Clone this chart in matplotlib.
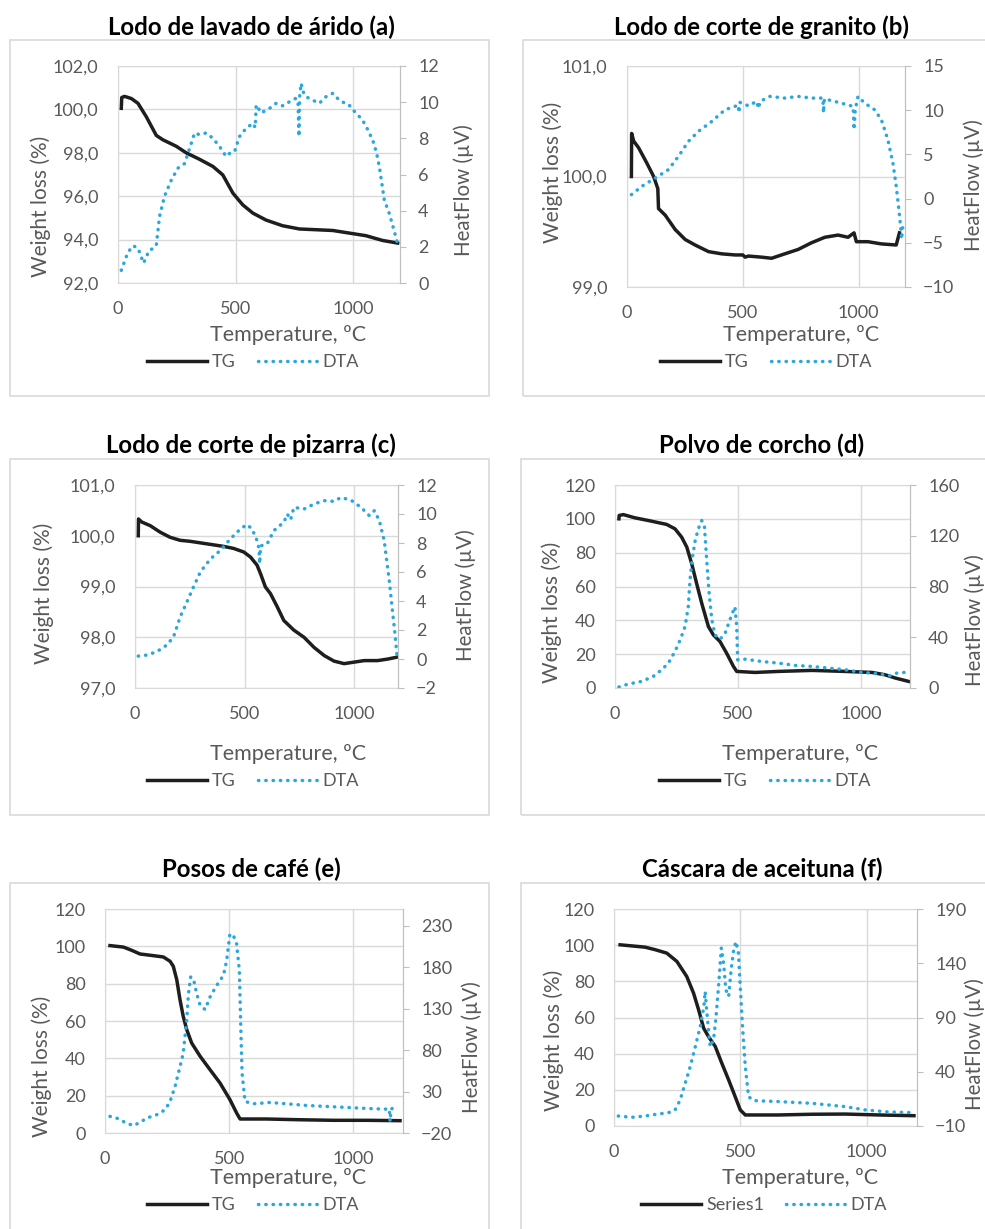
import numpy as np
import matplotlib.pyplot as plt
from matplotlib.ticker import FuncFormatter
from matplotlib.patches import Rectangle

plt.rcParams['font.family'] = ['Lato', 'DejaVu Sans']

GREY = '#595959'
GRID = '#d9d9d9'
BLUE = '#2aa7df'
BLACK = '#1e1e1e'

# (T in ºC, value) pairs
a_tg = [(14, 100.05), (16, 100.55), (28, 100.6), (57, 100.5), (85, 100.28), (120, 99.67),
        (163, 98.8), (191, 98.6), (248, 98.3), (290, 98.0), (347, 97.7), (404, 97.37),
        (446, 96.98), (489, 96.14), (531, 95.6), (574, 95.22), (630, 94.9), (700, 94.64),
        (772, 94.49), (914, 94.42), (984, 94.3), (1055, 94.18), (1126, 93.96), (1190, 93.84)]
a_dta = [(14, 0.7), (28, 1.2), (42, 1.69), (64, 2.06), (85, 1.93), (100, 1.4), (109, 1.1),
         (122, 1.5), (135, 1.84), (150, 1.9), (163, 2.1), (177, 3.7), (198, 4.8), (227, 5.7),
         (255, 6.35), (283, 6.6), (305, 7.45), (326, 8.3), (347, 8.2), (375, 8.3), (404, 8.0),
         (432, 7.55), (460, 7.0), (478, 7.2), (496, 7.27), (517, 8.1), (545, 8.55), (574, 8.83),
         (584, 8.6), (588, 9.85), (610, 9.4), (630, 9.57), (650, 9.7), (673, 9.94), (700, 9.8),
         (731, 10.03), (755, 10.2), (766, 10.1), (770, 8.1), (773, 10.3), (779, 11.04),
         (790, 10.5), (800, 10.3), (830, 10.1), (857, 9.94), (885, 10.3), (914, 10.49),
         (935, 10.2), (956, 10.0), (980, 9.9), (1000, 9.57), (1020, 9.3), (1041, 9.0),
         (1062, 8.5), (1084, 7.9), (1100, 7.2), (1112, 6.44), (1133, 4.6), (1154, 3.86),
         (1176, 2.85), (1193, 2.0)]

b_tg = [(19, 100.0), (20, 100.39), (29, 100.32), (50, 100.26), (86, 100.12), (115, 100.0),
        (133, 99.89), (136, 99.71), (165, 99.65), (208, 99.52), (251, 99.43), (294, 99.38),
        (352, 99.32), (409, 99.30), (467, 99.29), (500, 99.29), (510, 99.27), (524, 99.28),
        (581, 99.27), (624, 99.26), (681, 99.30), (739, 99.34), (796, 99.40), (854, 99.45),
        (911, 99.47), (954, 99.45), (980, 99.49), (990, 99.41), (1040, 99.41), (1098, 99.39),
        (1162, 99.38), (1176, 99.49)]
b_dta = [(19, 0.45), (65, 1.4), (122, 2.33), (179, 3.28), (222, 4.78), (265, 6.47), (308, 7.6),
         (366, 8.73), (423, 10.05), (466, 10.43), (480, 10.6), (483, 9.7), (488, 10.88),
         (524, 10.5), (560, 11.0), (567, 10.2), (575, 11.0), (617, 11.56), (681, 11.37),
         (739, 11.56), (796, 11.37), (846, 11.37), (848, 9.7), (852, 11.3), (868, 11.18),
         (925, 10.8), (976, 10.43), (980, 7.8), (985, 10.0), (997, 11.56), (1026, 10.8),
         (1069, 10.05), (1098, 8.92), (1126, 6.66), (1148, 4.0), (1162, 1.4), (1172, -0.87),
         (1181, -3.1), (1185, -4.6), (1190, -3.3)]

c_tg = [(15, 100.0), (16, 100.33), (31, 100.27), (69, 100.2), (115, 100.07), (160, 99.97),
        (206, 99.91), (252, 99.89), (298, 99.86), (344, 99.83), (405, 99.79), (450, 99.75),
        (496, 99.68), (527, 99.58), (557, 99.42), (573, 99.25), (595, 98.99), (618, 98.86),
        (649, 98.6), (679, 98.33), (725, 98.14), (771, 98.0), (817, 97.8), (863, 97.64),
        (908, 97.53), (954, 97.48), (1000, 97.51), (1046, 97.54), (1107, 97.54), (1153, 97.57),
        (1198, 97.61)]
c_dta = [(15, 0.2), (53, 0.27), (99, 0.5), (145, 0.96), (176, 1.53), (206, 2.9), (237, 3.94),
         (267, 4.97), (298, 6.0), (344, 6.9), (389, 7.48), (435, 8.28), (481, 8.97), (511, 9.27),
         (534, 8.97), (557, 8.17), (566, 7.6), (569, 6.57), (573, 7.8), (603, 7.94), (634, 8.86),
         (679, 9.43), (695, 10.0), (710, 9.6), (725, 10.46), (771, 10.34), (817, 10.69),
         (863, 10.92), (908, 10.87), (939, 11.14), (985, 10.96), (1031, 10.46), (1069, 9.89),
         (1092, 10.23), (1115, 9.54), (1137, 8.17), (1160, 5.42), (1176, 3.13), (1186, 1.76),
         (1195, 0.27)]

d_tg = [(16, 100), (17, 102), (34, 102.5), (81, 100.6), (136, 99), (210, 96.7), (244, 94.1),
        (271, 89.2), (292, 83.3), (312, 73.5), (332, 61.8), (353, 50), (380, 36.3), (400, 31.4),
        (427, 27.5), (454, 20.6), (482, 12.7), (495, 9.8), (570, 9.2), (665, 9.8), (801, 10.4),
        (936, 9.8), (1045, 9.2), (1099, 7.8), (1140, 5.9), (1194, 3.9)]
d_dta = [(16, 0.8), (54, 3.1), (109, 5.2), (156, 9.2), (190, 14.4), (217, 19.6), (244, 28.8),
         (265, 37.9), (285, 48.4), (298, 64), (305, 85), (315, 103), (326, 116), (339, 125.5),
         (353, 132), (364, 127), (373, 100.7), (383, 74.5), (394, 53.6), (407, 41.8),
         (427, 38.4), (448, 43.1), (467, 53.6), (477, 58.8), (488, 64), (495, 48.4), (499, 22.2),
         (529, 22.7), (597, 20.9), (665, 19.6), (733, 17.8), (801, 17), (868, 15.7), (936, 14.4),
         (1004, 12.3), (1072, 11.2), (1119, 9.7), (1147, 11.8), (1181, 12.3)]

e_tg = [(20, 100.4), (74, 99.6), (107, 97.9), (141, 95.9), (195, 95), (235, 94.3), (262, 92),
        (275, 89.3), (289, 82.1), (302, 71.4), (315, 62.5), (329, 55.4), (349, 48.2),
        (383, 41.1), (423, 33.9), (463, 26.8), (503, 17.9), (530, 10.7), (544, 7.5), (651, 7.5),
        (785, 7.1), (919, 6.8), (1054, 6.8), (1188, 6.6)]
e_dta = [(20, 0), (47, -2), (81, -7.2), (114, -11.2), (141, -7.2), (168, -2), (208, 2), (242, 8),
         (262, 18), (282, 36), (302, 60), (315, 76), (329, 116), (336, 148), (345, 168),
         (356, 166), (369, 148), (383, 134), (403, 128.8), (423, 144), (450, 158), (477, 170),
         (490, 188), (503, 220), (517, 218), (530, 208), (541, 176), (546, 116), (552, 52),
         (564, 18), (597, 15.2), (664, 16.8), (732, 15.2), (812, 13.2), (893, 12), (973, 10.8),
         (1054, 9.6), (1121, 8.8), (1145, 8.8), (1148, -6), (1152, 8), (1161, 11.2), (1181, 11.2)]

f_tg = [(24, 100.2), (70, 99.6), (123, 98.9), (163, 97.5), (209, 95.6), (249, 91), (288, 82.7),
        (315, 73.5), (335, 64.3), (355, 54.1), (374, 49.5), (401, 44), (427, 34.7), (454, 25.5),
        (480, 16.2), (500, 8.9), (520, 6.1), (652, 6.1), (784, 6.5), (917, 6.6), (1049, 6.1),
        (1188, 5.7)]
f_dta = [(17, -0.8), (70, -2), (123, -0.8), (176, 1.1), (216, 2.3), (242, 4.8), (262, 14),
         (282, 29.4), (302, 44.8), (322, 63.2), (343, 83.2), (356, 100), (361, 114), (368, 94),
         (381, 63), (394, 69.4), (403, 87.8), (414, 118.6), (425, 154), (434, 140), (443, 115.5),
         (454, 109.4), (464, 134), (474, 152.5), (483, 160), (493, 149), (500, 118.6),
         (509, 81.7), (520, 44.8), (533, 17), (553, 13.4), (652, 12.5), (784, 10.9), (917, 7.8),
         (996, 4.8), (1089, 2.9), (1188, 2.3)]

titles = ['Lodo de lavado de árido (a)', 'Lodo de corte de granito (b)',
          'Lodo de corte de pizarra (c)', 'Polvo de corcho (d)',
          'Posos de café (e)', 'Cáscara de aceituna (f)']
tg_names = ['TG', 'TG', 'TG', 'TG', 'TG', 'Series1']
left_ticks = [np.arange(92, 103, 2), np.arange(99, 101.5, 1), np.arange(97, 101.5, 1),
              np.arange(0, 121, 20), np.arange(0, 121, 20), np.arange(0, 121, 20)]
right_ticks = [np.arange(0, 13, 2), np.arange(-10, 16, 5), np.arange(-2, 13, 2),
               np.arange(0, 161, 40), np.arange(-20, 231, 50), np.arange(-10, 191, 50)]
right_lims = [(0, 12), (-10, 15), (-2, 12), (0, 160), (-20, 250), (-10, 190)]
decimals = [1, 1, 1, 0, 0, 0]

W, H = 985, 1229
fig = plt.figure(figsize=(9.85, 12.29), dpi=100)

# layout in pixels: box, plot area, title, ylabel, y2label, xlabel, legend centre
L = [
    dict(box=(10, 40, 489, 396), plot=(118, 66, 400, 283), title=(251, 27), yl=(41, 206),
         y2l=(464, 190), xl=(288, 335), leg=(253, 362)),
    dict(box=(523, 40, 1000, 396), plot=(627, 66, 905, 287), title=(761, 27), yl=(553, 172),
         y2l=(974, 185), xl=(801, 335), leg=(766, 362)),
    dict(box=(10, 459, 489, 815), plot=(135, 485, 398, 688), title=(251, 445), yl=(44, 593),
         y2l=(466, 595), xl=(288, 754), leg=(253, 781)),
    dict(box=(521, 459, 1000, 815), plot=(615, 485, 910, 688), title=(762, 445), yl=(552, 612),
         y2l=(975, 620), xl=(800, 754), leg=(765, 781)),
    dict(box=(10, 883, 489, 1240), plot=(105, 909, 403, 1133), title=(251, 869), yl=(42, 1066),
         y2l=(472, 1047), xl=(288, 1178), leg=(253, 1205)),
    dict(box=(521, 883, 1000, 1240), plot=(614, 909, 917, 1126), title=(762, 869), yl=(554, 1040),
         y2l=(975, 1044), xl=(800, 1178), leg=(764, 1205)),
]

series = [(a_tg, a_dta), (b_tg, b_dta), (c_tg, c_dta), (d_tg, d_dta), (e_tg, e_dta), (f_tg, f_dta)]


def fx(px):
    return px / W


def fy(py):
    return 1 - py / H


for i, (tg, dta) in enumerate(series):
    lay = L[i]
    x0, y0, x1, y1 = lay['box']
    fig.patches.append(Rectangle((fx(x0), fy(y1)), fx(x1 - x0), (y1 - y0) / H,
                                 transform=fig.transFigure, fill=False, edgecolor=GRID, lw=1.2))
    px0, py0, px1, py1 = lay['plot']
    ax = fig.add_axes([fx(px0), fy(py1), fx(px1 - px0), (py1 - py0) / H])
    ax2 = ax.twinx()

    t1, v1 = np.array(tg).T
    t2, v2 = np.array(dta).T
    l1, = ax.plot(t1, v1, color=BLACK, lw=2.5, solid_joinstyle='round')
    l2, = ax2.plot(t2, v2, color=BLUE, lw=2.5, linestyle=(0, (0.1, 2.0)), dash_capstyle='round')

    ax.set_xlim(0, 1200)
    ax.set_xticks([0, 500, 1000])
    lt = left_ticks[i]
    ax.set_ylim(lt[0], lt[-1])
    ax.set_yticks(lt)
    dec = decimals[i]
    ax.yaxis.set_major_formatter(FuncFormatter(
        lambda v, p, d=dec: (f'{v:.{d}f}').replace('.', ',')))
    ax.grid(True, color=GRID, lw=1.0)
    ax.set_axisbelow(True)
    for s in ax.spines.values():
        s.set_color(GRID)
    ax.tick_params(axis='both', length=0, labelcolor=GREY, labelsize=13)
    ax.tick_params(axis='y', pad=14)
    ax.tick_params(axis='x', pad=13)

    ax2.set_ylim(*right_lims[i])
    ax2.set_yticks(right_ticks[i])
    for s in ['top', 'left', 'bottom']:
        ax2.spines[s].set_visible(False)
    ax2.spines['right'].set_color('#bfbfbf')
    ax2.tick_params(axis='y', direction='out', length=4, color='#bfbfbf', labelcolor=GREY,
                    labelsize=13, pad=9)

    tx, ty = lay['title']
    fig.text(fx(tx), fy(ty), titles[i], ha='center', va='center', fontsize=17.3,
             fontweight='bold', color='black')
    yx, yy = lay['yl']
    fig.text(fx(yx), fy(yy), 'Weight loss (%)', rotation=90, ha='center', va='center',
             fontsize=15, color=GREY)
    rx, ry = lay['y2l']
    fig.text(fx(rx), fy(ry), 'HeatFlow (µV)', rotation=90, ha='center', va='center',
             fontsize=14.8, color=GREY)
    xx, xy = lay['xl']
    fig.text(fx(xx), fy(xy), 'Temperature, ºC', ha='center', va='center', fontsize=15.5,
             color=GREY)
    gx, gy = lay['leg']
    fig.legend([l1, l2], [tg_names[i], 'DTA'], loc='center', bbox_to_anchor=(fx(gx), fy(gy)),
               ncol=2, frameon=False, fontsize=13, handlelength=3.3, handletextpad=0.3,
               columnspacing=1.2, labelcolor=GREY, borderpad=0)

fig.savefig('out.png', dpi=100)
